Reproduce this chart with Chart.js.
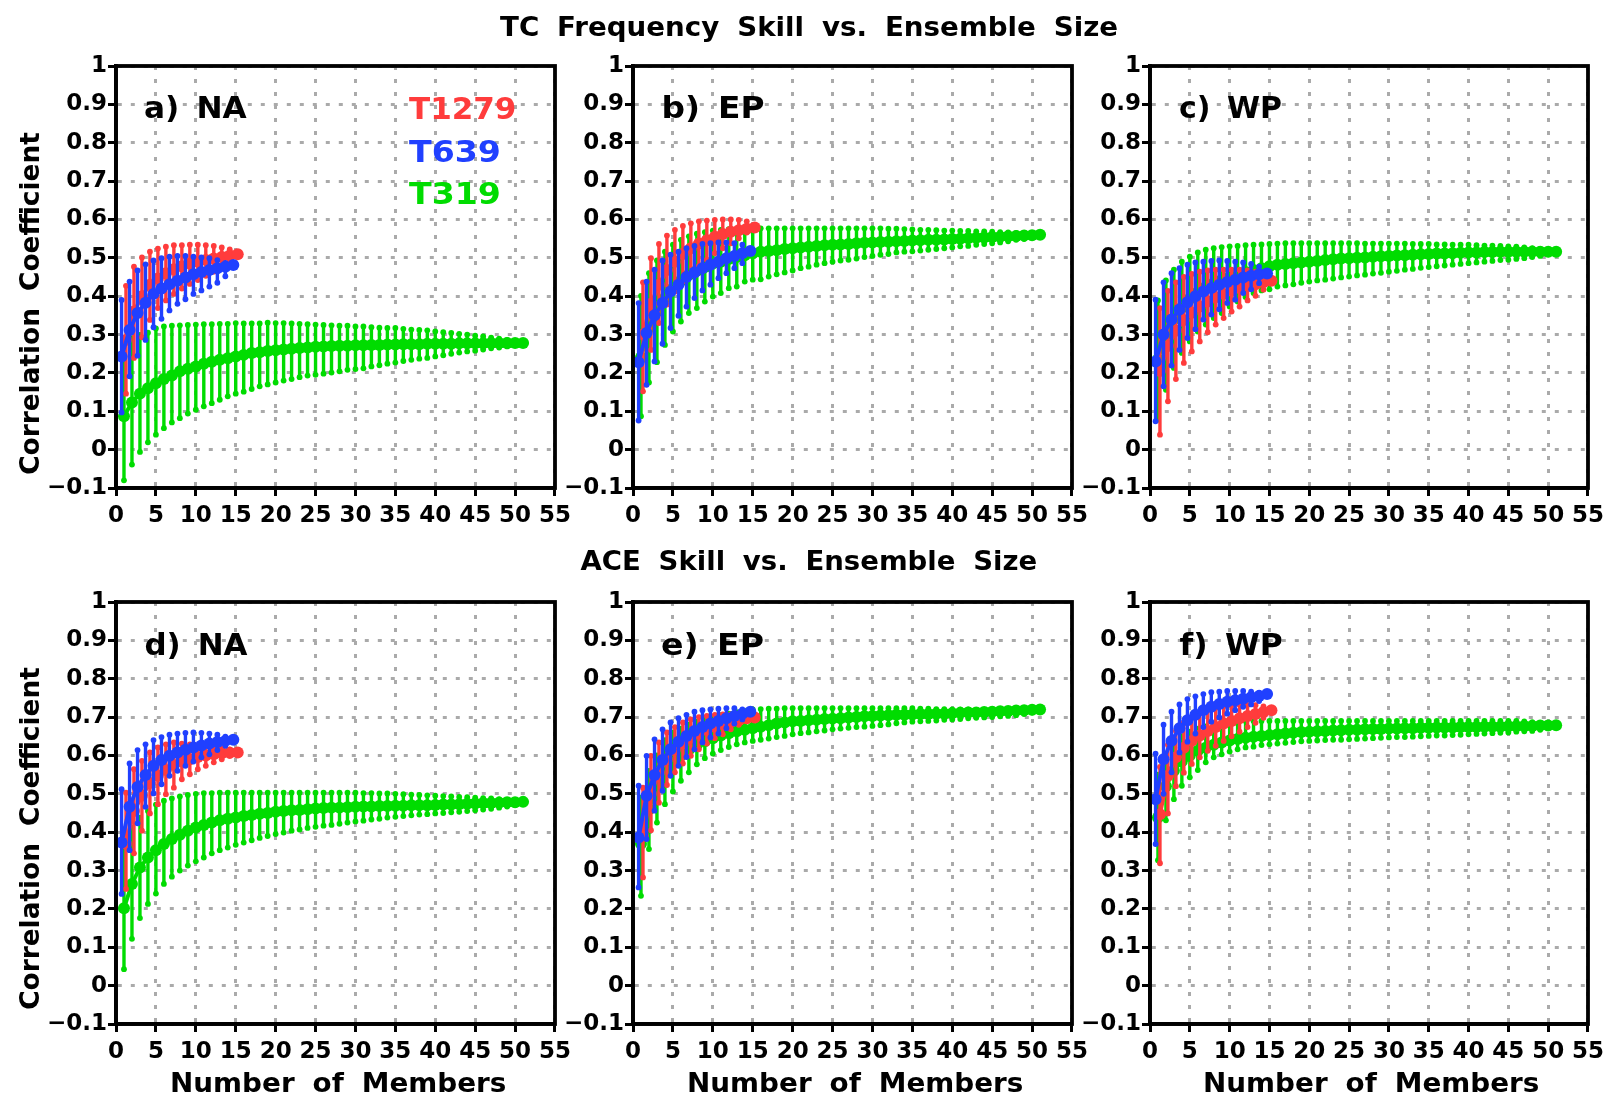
<!DOCTYPE html>
<html><head><meta charset="utf-8">
<script src="https://cdn.jsdelivr.net/npm/chart.js@4.4.0/dist/chart.umd.min.js"></script>
<style>
html,body{margin:0;padding:0;background:#fff;}
body{width:1612px;height:1095px;position:relative;overflow:hidden;font-family:'DejaVu Sans';}
canvas{position:absolute;}
.t{position:absolute;white-space:pre;font-weight:bold;line-height:1;transform-origin:center center;font-family:'DejaVu Sans';}
</style></head><body>
<script>
// ---------------- categories / ticks ----------------
const members15 = [1,2,3,4,5,6,7,8,9,10,11,12,13,14,15];
const members51 = [1,2,3,4,5,6,7,8,9,10,11,12,13,14,15,16,17,18,19,20,21,22,23,24,25,26,27,28,29,30,31,32,33,34,35,36,37,38,39,40,41,42,43,44,45,46,47,48,49,50,51];
const xTickValues = [0,5,10,15,20,25,30,35,40,45,50,55];
const xTickLabels = ['0','5','10','15','20','25','30','35','40','45','50','55'];
const yTickValues = [-0.1,0,0.1,0.2,0.3,0.4,0.5,0.6,0.7,0.8,0.9,1];
const yTickLabels = ['\u22120.1','0','0.1','0.2','0.3','0.4','0.5','0.6','0.7','0.8','0.9','1'];
const seriesNames = ['T1279','T639','T319'];

// ---------------- a) TC frequency, NA ----------------
const freqNA_T1279_mean = [0.286,0.36,0.40,0.43,0.446,0.46,0.47,0.478,0.485,0.49,0.494,0.498,0.502,0.506,0.509];
const freqNA_T1279_lo   = [0.146,0.239,0.293,0.338,0.369,0.389,0.406,0.42,0.432,0.442,0.453,0.464,0.477,0.49,0.509];
const freqNA_T1279_hi   = [0.427,0.477,0.501,0.516,0.524,0.529,0.533,0.533,0.534,0.534,0.533,0.531,0.527,0.522,0.509];
const freqNA_T639_mean  = [0.243,0.312,0.356,0.383,0.406,0.420,0.431,0.440,0.449,0.457,0.463,0.468,0.473,0.477,0.481];
const freqNA_T639_lo    = [0.097,0.191,0.245,0.286,0.319,0.341,0.363,0.380,0.392,0.406,0.415,0.425,0.435,0.452,0.481];
const freqNA_T639_hi    = [0.390,0.438,0.467,0.483,0.493,0.499,0.503,0.505,0.505,0.503,0.501,0.499,0.494,0.487,0.481];
const freqNA_T319_mean  = [0.087,0.123,0.146,0.160,0.173,0.184,0.193,0.204,0.211,0.217,0.224,0.229,0.234,0.238,0.243,0.247,0.252,0.254,0.257,0.259,0.261,0.263,0.265,0.266,0.268,0.269,0.270,0.271,0.271,0.272,0.272,0.273,0.273,0.274,0.274,0.275,0.275,0.275,0.276,0.276,0.276,0.276,0.277,0.277,0.277,0.277,0.278,0.278,0.278,0.278,0.278];
const freqNA_T319_lo    = [-0.080,-0.039,-0.006,0.019,0.039,0.056,0.071,0.082,0.094,0.104,0.113,0.121,0.130,0.139,0.146,0.151,0.158,0.165,0.170,0.175,0.180,0.184,0.189,0.193,0.195,0.198,0.201,0.204,0.208,0.210,0.212,0.217,0.220,0.224,0.227,0.231,0.234,0.237,0.239,0.243,0.246,0.250,0.253,0.256,0.258,0.261,0.264,0.266,0.269,0.272,0.278];
const freqNA_T319_hi    = [0.260,0.290,0.299,0.305,0.316,0.321,0.323,0.324,0.325,0.326,0.327,0.327,0.328,0.328,0.330,0.329,0.329,0.329,0.331,0.330,0.330,0.329,0.328,0.327,0.326,0.325,0.324,0.323,0.323,0.321,0.321,0.319,0.318,0.317,0.317,0.315,0.313,0.312,0.311,0.308,0.306,0.304,0.302,0.300,0.297,0.295,0.292,0.289,0.286,0.282,0.278];

// ---------------- b) TC frequency, EP ----------------
const freqEP_T1279_mean = [0.30,0.38,0.43,0.468,0.49,0.51,0.525,0.537,0.546,0.555,0.562,0.568,0.572,0.576,0.579];
const freqEP_T1279_lo   = [0.152,0.26,0.33,0.378,0.412,0.438,0.46,0.479,0.495,0.512,0.525,0.538,0.551,0.566,0.579];
const freqEP_T1279_hi   = [0.436,0.499,0.536,0.558,0.573,0.583,0.59,0.595,0.597,0.599,0.6,0.6,0.599,0.595,0.579];
const freqEP_T639_mean  = [0.228,0.304,0.35,0.382,0.412,0.43,0.45,0.462,0.473,0.482,0.49,0.499,0.505,0.512,0.518];
const freqEP_T639_lo    = [0.076,0.169,0.23,0.276,0.317,0.349,0.373,0.395,0.415,0.43,0.447,0.46,0.473,0.486,0.518];
const freqEP_T639_hi    = [0.382,0.438,0.469,0.493,0.508,0.516,0.525,0.531,0.536,0.538,0.54,0.54,0.538,0.534,0.518];
const freqEP_T319_mean  = [0.24,0.318,0.36,0.395,0.42,0.44,0.456,0.466,0.476,0.485,0.49,0.497,0.502,0.507,0.512,0.516,0.518,0.52,0.523,0.525,0.527,0.529,0.531,0.533,0.534,0.535,0.536,0.538,0.539,0.54,0.541,0.542,0.543,0.544,0.545,0.546,0.547,0.547,0.548,0.549,0.55,0.551,0.552,0.553,0.554,0.555,0.556,0.557,0.558,0.559,0.56];
const freqEP_T319_lo    = [0.087,0.175,0.228,0.273,0.308,0.334,0.356,0.369,0.386,0.399,0.408,0.421,0.425,0.438,0.443,0.444,0.451,0.457,0.462,0.467,0.473,0.477,0.482,0.486,0.490,0.493,0.495,0.498,0.502,0.505,0.508,0.510,0.514,0.516,0.517,0.519,0.521,0.523,0.525,0.527,0.530,0.531,0.534,0.536,0.538,0.540,0.543,0.547,0.549,0.554,0.56];
const freqEP_T319_hi    = [0.401,0.46,0.493,0.516,0.534,0.547,0.556,0.563,0.567,0.571,0.573,0.575,0.575,0.576,0.576,0.577,0.577,0.577,0.577,0.577,0.577,0.577,0.577,0.577,0.577,0.577,0.577,0.577,0.577,0.577,0.577,0.576,0.576,0.575,0.574,0.573,0.573,0.572,0.571,0.571,0.570,0.570,0.569,0.569,0.568,0.567,0.566,0.565,0.564,0.562,0.56];

// ---------------- c) TC frequency, WP ----------------
const freqWP_T1279_mean = [0.205,0.27,0.31,0.338,0.357,0.373,0.386,0.397,0.406,0.414,0.421,0.427,0.431,0.436,0.44];
const freqWP_T1279_lo   = [0.039,0.126,0.184,0.226,0.256,0.282,0.306,0.326,0.343,0.36,0.373,0.389,0.401,0.417,0.44];
const freqWP_T1279_hi   = [0.369,0.414,0.436,0.45,0.458,0.464,0.467,0.469,0.469,0.469,0.469,0.467,0.464,0.46,0.44];
const freqWP_T639_mean  = [0.23,0.3,0.339,0.365,0.384,0.4,0.412,0.421,0.43,0.437,0.443,0.449,0.453,0.457,0.459];
const freqWP_T639_lo    = [0.074,0.165,0.219,0.26,0.291,0.314,0.339,0.352,0.366,0.382,0.391,0.408,0.418,0.434,0.459];
const freqWP_T639_hi    = [0.391,0.436,0.46,0.473,0.482,0.488,0.49,0.492,0.493,0.492,0.49,0.488,0.484,0.477,0.459];
const freqWP_T319_mean  = [0.235,0.30,0.34,0.37,0.393,0.41,0.424,0.434,0.442,0.45,0.457,0.463,0.468,0.473,0.478,0.482,0.484,0.486,0.488,0.49,0.492,0.494,0.496,0.498,0.499,0.5,0.501,0.503,0.504,0.505,0.506,0.507,0.508,0.509,0.51,0.511,0.511,0.512,0.513,0.514,0.514,0.515,0.515,0.516,0.516,0.516,0.516,0.516,0.516,0.516,0.516];
const freqWP_T319_lo    = [0.078,0.156,0.213,0.252,0.282,0.308,0.326,0.343,0.356,0.373,0.386,0.398,0.408,0.415,0.418,0.425,0.428,0.431,0.435,0.438,0.441,0.443,0.446,0.449,0.451,0.454,0.456,0.459,0.461,0.464,0.466,0.469,0.471,0.474,0.476,0.478,0.480,0.482,0.484,0.486,0.488,0.490,0.492,0.494,0.495,0.497,0.499,0.502,0.505,0.509,0.516];
const freqWP_T319_hi    = [0.389,0.441,0.469,0.49,0.503,0.514,0.521,0.525,0.528,0.53,0.531,0.533,0.534,0.535,0.536,0.537,0.538,0.538,0.538,0.538,0.538,0.538,0.538,0.538,0.538,0.538,0.537,0.537,0.537,0.537,0.537,0.537,0.536,0.536,0.536,0.535,0.535,0.534,0.534,0.534,0.533,0.532,0.532,0.531,0.530,0.529,0.527,0.525,0.523,0.520,0.516];

// ---------------- d) ACE, NA ----------------
const aceNA_T1279_mean = [0.37,0.455,0.495,0.528,0.547,0.562,0.575,0.584,0.59,0.596,0.6,0.603,0.606,0.607,0.608];
const aceNA_T1279_lo   = [0.252,0.345,0.404,0.449,0.473,0.499,0.516,0.538,0.551,0.564,0.573,0.582,0.59,0.599,0.608];
const aceNA_T1279_hi   = [0.503,0.564,0.586,0.608,0.621,0.629,0.634,0.631,0.629,0.627,0.625,0.621,0.619,0.616,0.608];
const aceNA_T639_mean  = [0.373,0.466,0.518,0.549,0.573,0.588,0.599,0.608,0.615,0.621,0.626,0.631,0.635,0.638,0.641];
const aceNA_T639_lo    = [0.239,0.353,0.423,0.466,0.501,0.525,0.547,0.56,0.573,0.584,0.595,0.603,0.614,0.625,0.641];
const aceNA_T639_hi    = [0.512,0.579,0.614,0.629,0.64,0.648,0.654,0.657,0.659,0.66,0.659,0.657,0.654,0.649,0.641];
const aceNA_T319_mean  = [0.202,0.265,0.308,0.334,0.353,0.369,0.382,0.393,0.404,0.412,0.419,0.425,0.431,0.435,0.438,0.442,0.445,0.448,0.45,0.453,0.455,0.457,0.458,0.46,0.462,0.463,0.464,0.464,0.465,0.466,0.467,0.467,0.468,0.468,0.469,0.469,0.47,0.47,0.47,0.471,0.472,0.472,0.473,0.474,0.475,0.476,0.476,0.477,0.478,0.478,0.479];
const aceNA_T319_lo    = [0.043,0.122,0.176,0.213,0.24,0.265,0.284,0.3,0.313,0.324,0.334,0.345,0.353,0.36,0.367,0.373,0.379,0.385,0.39,0.395,0.399,0.404,0.407,0.411,0.414,0.417,0.419,0.422,0.425,0.428,0.430,0.433,0.435,0.438,0.44,0.442,0.444,0.446,0.447,0.449,0.45,0.452,0.453,0.455,0.457,0.459,0.461,0.464,0.467,0.471,0.479];
const aceNA_T319_hi    = [0.36,0.412,0.438,0.455,0.472,0.482,0.488,0.493,0.497,0.5,0.502,0.502,0.503,0.503,0.503,0.503,0.503,0.503,0.503,0.503,0.503,0.503,0.503,0.503,0.503,0.503,0.503,0.503,0.503,0.503,0.502,0.502,0.501,0.501,0.5,0.499,0.498,0.497,0.496,0.495,0.494,0.493,0.492,0.491,0.49,0.489,0.488,0.486,0.484,0.482,0.479];

// ---------------- e) ACE, EP ----------------
const aceEP_T1279_mean = [0.39,0.5,0.555,0.59,0.615,0.632,0.646,0.658,0.667,0.675,0.681,0.687,0.692,0.697,0.699];
const aceEP_T1279_lo   = [0.282,0.405,0.477,0.523,0.556,0.579,0.599,0.616,0.631,0.645,0.655,0.668,0.68,0.69,0.699];
const aceEP_T1279_hi   = [0.516,0.599,0.634,0.66,0.674,0.686,0.694,0.7,0.703,0.706,0.707,0.707,0.707,0.706,0.699];
const aceEP_T639_mean  = [0.386,0.495,0.549,0.588,0.616,0.636,0.651,0.664,0.674,0.683,0.69,0.697,0.703,0.709,0.714];
const aceEP_T639_lo    = [0.256,0.382,0.456,0.508,0.547,0.573,0.596,0.616,0.634,0.647,0.657,0.671,0.683,0.694,0.714];
const aceEP_T639_hi    = [0.521,0.599,0.642,0.668,0.686,0.697,0.706,0.714,0.718,0.72,0.722,0.723,0.723,0.72,0.714];
const aceEP_T319_mean  = [0.37,0.46,0.52,0.555,0.58,0.6,0.615,0.627,0.637,0.645,0.652,0.658,0.663,0.667,0.671,0.675,0.679,0.683,0.686,0.689,0.69,0.692,0.693,0.695,0.696,0.697,0.699,0.7,0.702,0.703,0.704,0.705,0.706,0.706,0.707,0.708,0.708,0.709,0.709,0.71,0.711,0.712,0.712,0.713,0.714,0.715,0.716,0.717,0.718,0.719,0.72];
const aceEP_T319_lo    = [0.234,0.356,0.425,0.473,0.506,0.534,0.556,0.577,0.593,0.605,0.614,0.622,0.629,0.634,0.638,0.641,0.644,0.648,0.651,0.655,0.658,0.66,0.663,0.665,0.668,0.67,0.672,0.674,0.675,0.677,0.679,0.681,0.684,0.686,0.688,0.689,0.69,0.691,0.693,0.694,0.695,0.697,0.698,0.699,0.7,0.702,0.703,0.705,0.708,0.712,0.72];
const aceEP_T319_hi    = [0.49,0.56,0.6,0.64,0.66,0.67,0.68,0.688,0.695,0.70,0.705,0.709,0.713,0.716,0.72,0.721,0.722,0.722,0.723,0.723,0.723,0.723,0.723,0.723,0.723,0.723,0.723,0.723,0.723,0.723,0.723,0.723,0.723,0.723,0.723,0.722,0.722,0.721,0.721,0.72,0.72,0.72,0.719,0.719,0.718,0.718,0.717,0.717,0.721,0.72,0.72];

// ---------------- f) ACE, WP ----------------
const aceWP_T1279_mean = [0.447,0.547,0.595,0.62,0.638,0.652,0.664,0.674,0.683,0.69,0.697,0.703,0.708,0.713,0.718];
const aceWP_T1279_lo   = [0.319,0.449,0.52,0.555,0.578,0.595,0.612,0.625,0.638,0.65,0.662,0.674,0.685,0.698,0.718];
const aceWP_T1279_hi   = [0.57,0.628,0.664,0.686,0.7,0.71,0.718,0.724,0.728,0.73,0.732,0.732,0.731,0.728,0.718];
const aceWP_T639_mean  = [0.486,0.59,0.638,0.671,0.692,0.706,0.718,0.727,0.734,0.74,0.744,0.748,0.752,0.755,0.76];
const aceWP_T639_lo    = [0.369,0.5,0.556,0.608,0.636,0.657,0.674,0.688,0.699,0.709,0.718,0.727,0.733,0.742,0.76];
const aceWP_T639_hi    = [0.605,0.68,0.714,0.733,0.747,0.754,0.76,0.765,0.766,0.768,0.768,0.768,0.766,0.764,0.76];
const aceWP_T319_mean  = [0.438,0.52,0.56,0.585,0.6,0.612,0.62,0.628,0.634,0.639,0.643,0.646,0.649,0.651,0.653,0.655,0.657,0.659,0.661,0.662,0.663,0.664,0.665,0.666,0.667,0.667,0.668,0.669,0.669,0.67,0.67,0.671,0.671,0.672,0.672,0.673,0.673,0.673,0.674,0.674,0.674,0.675,0.675,0.675,0.676,0.676,0.677,0.677,0.678,0.678,0.679];
const aceWP_T319_lo    = [0.327,0.431,0.486,0.521,0.543,0.562,0.582,0.595,0.603,0.61,0.616,0.621,0.623,0.627,0.629,0.631,0.633,0.635,0.637,0.638,0.639,0.64,0.641,0.641,0.642,0.643,0.644,0.645,0.646,0.647,0.648,0.648,0.649,0.65,0.651,0.652,0.652,0.653,0.654,0.655,0.656,0.657,0.658,0.659,0.66,0.662,0.663,0.664,0.667,0.671,0.679];
const aceWP_T319_hi    = [0.55,0.6,0.63,0.65,0.662,0.67,0.676,0.68,0.685,0.688,0.69,0.69,0.69,0.69,0.69,0.69,0.69,0.69,0.69,0.69,0.69,0.69,0.69,0.69,0.69,0.69,0.69,0.69,0.69,0.69,0.69,0.69,0.69,0.69,0.69,0.69,0.69,0.69,0.69,0.69,0.69,0.69,0.69,0.69,0.69,0.69,0.689,0.687,0.685,0.683,0.679];

// ---------------- style ----------------
const COLORS = {T1279:'#ff3c3c', T639:'#2040ff', T319:'#00dc00'};
const XOFF = {T1279:0.25, T639:-0.3, T319:0};
const TICK_FONT = {family:'DejaVu Sans', weight:'bold', size:23};

const panels = [
  {L:116, T:66,  R:559,  B:488,  label:'a) NA',
   d:{T1279:[freqNA_T1279_mean,freqNA_T1279_lo,freqNA_T1279_hi], T639:[freqNA_T639_mean,freqNA_T639_lo,freqNA_T639_hi], T319:[freqNA_T319_mean,freqNA_T319_lo,freqNA_T319_hi]}},
  {L:633, T:66,  R:1076, B:488,  label:'b) EP',
   d:{T1279:[freqEP_T1279_mean,freqEP_T1279_lo,freqEP_T1279_hi], T639:[freqEP_T639_mean,freqEP_T639_lo,freqEP_T639_hi], T319:[freqEP_T319_mean,freqEP_T319_lo,freqEP_T319_hi]}},
  {L:1150,T:66,  R:1592, B:488,  label:'c) WP',
   d:{T1279:[freqWP_T1279_mean,freqWP_T1279_lo,freqWP_T1279_hi], T639:[freqWP_T639_mean,freqWP_T639_lo,freqWP_T639_hi], T319:[freqWP_T319_mean,freqWP_T319_lo,freqWP_T319_hi]}},
  {L:116, T:602, R:559,  B:1024, label:'d) NA',
   d:{T1279:[aceNA_T1279_mean,aceNA_T1279_lo,aceNA_T1279_hi], T639:[aceNA_T639_mean,aceNA_T639_lo,aceNA_T639_hi], T319:[aceNA_T319_mean,aceNA_T319_lo,aceNA_T319_hi]}},
  {L:633, T:602, R:1076, B:1024, label:'e) EP',
   d:{T1279:[aceEP_T1279_mean,aceEP_T1279_lo,aceEP_T1279_hi], T639:[aceEP_T639_mean,aceEP_T639_lo,aceEP_T639_hi], T319:[aceEP_T319_mean,aceEP_T319_lo,aceEP_T319_hi]}},
  {L:1150,T:602, R:1592, B:1024, label:'f) WP',
   d:{T1279:[aceWP_T1279_mean,aceWP_T1279_lo,aceWP_T1279_hi], T639:[aceWP_T639_mean,aceWP_T639_lo,aceWP_T639_hi], T319:[aceWP_T319_mean,aceWP_T319_lo,aceWP_T319_hi]}}
];

const errorBarPlugin = {
  id:'errbars',
  beforeDatasetDraw(chart, args){
    const ds = chart.data.datasets[args.index];
    if(!ds.lo) return;
    const xs = chart.scales.x, ys = chart.scales.y, ctx = chart.ctx;
    ctx.save();
    ctx.strokeStyle = ds.borderColor; ctx.fillStyle = ds.borderColor;
    ctx.lineWidth = 3.4;
    ds.data.forEach((p,i)=>{
      const px = xs.getPixelForValue(p.x);
      const y1 = ys.getPixelForValue(ds.lo[i]), y2 = ys.getPixelForValue(ds.hi[i]);
      if(Math.abs(y1-y2) < 1.5) return;
      ctx.beginPath(); ctx.moveTo(px,y1); ctx.lineTo(px,y2); ctx.stroke();
      [y1,y2].forEach(yy=>{ ctx.beginPath(); ctx.arc(px,yy,2.9,0,Math.PI*2); ctx.fill(); });
    });
    ctx.restore();
  }
};
const framePlugin = {
  id:'frame',
  afterDraw(chart){
    const a = chart.chartArea, ctx = chart.ctx;
    ctx.save(); ctx.strokeStyle='#000'; ctx.lineWidth=3.8;
    ctx.strokeRect(a.left, a.top, a.right-a.left, a.bottom-a.top);
    ctx.restore();
  }
};

const PADL = 100, PADT = 25, PADR = 18, PADB = 50;
panels.forEach(p=>{
  const cv = document.createElement('canvas');
  const W = (p.R-p.L)+PADL+PADR, H = (p.B-p.T)+PADT+PADB;
  cv.width = W; cv.height = H;
  cv.style.left = (p.L-PADL)+'px'; cv.style.top = (p.T-PADT)+'px';
  cv.style.width = W+'px'; cv.style.height = H+'px';
  document.body.appendChild(cv);
  const order = ['T639','T1279','T319'];
  const datasets = order.map(name=>{
    const [mean, lo, hi] = p.d[name];
    const xs = mean.length === 15 ? members15 : members51;
    return {
      label:name,
      data: mean.map((v,i)=>({x: xs[i]+XOFF[name], y: v})),
      lo, hi,
      borderColor: COLORS[name], backgroundColor: COLORS[name],
      pointBackgroundColor: COLORS[name], pointBorderWidth:0,
      pointRadius:6, borderWidth:4, tension:0, showLine:true, fill:false
    };
  });
  new Chart(cv, {
    type:'line',
    data:{datasets},
    options:{
      responsive:false, animation:false, devicePixelRatio:1, events:[],
      layout:{padding:{left:0, top:PADT, right:PADR, bottom:0}},
      plugins:{legend:{display:false}, tooltip:{enabled:false}},
      scales:{
        x:{type:'linear', min:0, max:55,
           afterFit(s){ s.height = PADB; },
           afterBuildTicks(s){ s.ticks = xTickValues.map(v=>({value:v})); },
           ticks:{autoSkip:false, maxRotation:0, color:'#000', font:TICK_FONT, padding:6,
                  callback:(v)=>xTickLabels[xTickValues.indexOf(v)]},
           grid:{color:'#aaaaaa', lineWidth:3, drawTicks:true, tickLength:8, tickColor:'#000', tickWidth:3},
           border:{display:true, color:'#000', width:3.8, dash:[4,9]}},
        y:{type:'linear', min:-0.1, max:1,
           afterFit(s){ s.width = PADL; },
           afterBuildTicks(s){ s.ticks = yTickValues.map(v=>({value:v})); },
           ticks:{autoSkip:false, color:'#000', font:TICK_FONT, padding:1,
                  callback:(v)=>{ const i = yTickValues.findIndex(t=>Math.abs(t-v)<1e-6); return yTickLabels[i]; }},
           grid:{color:'#aaaaaa', lineWidth:3, drawTicks:true, tickLength:8, tickColor:'#000', tickWidth:3},
           border:{display:true, color:'#000', width:3.8, dash:[4,9]}}
      }
    },
    plugins:[errorBarPlugin, framePlugin]
  });
});

// ---------------- text ----------------
function addText(txt, o){
  const d = document.createElement('div');
  d.className = 't'; d.textContent = txt;
  d.style.fontSize = o.size+'px'; d.style.color = o.color || '#000';
  if(o.ws) d.style.wordSpacing = o.ws+'px';
  document.body.appendChild(d);
  const w = d.offsetWidth, h = d.offsetHeight;
  const sx = o.w ? o.w / w : 1;
  const cx = o.cx !== undefined ? o.cx : o.left + o.w/2;
  d.style.left = (cx - w/2)+'px'; d.style.top = (o.cy - h/2)+'px';
  d.style.transform = (o.rot ? 'rotate(-90deg) ' : '') + 'scaleX('+sx+')';
}
const titleTop = 'TC Frequency Skill vs. Ensemble Size';
const titleBottom = 'ACE Skill vs. Ensemble Size';
const yTitle = 'Correlation Coefficient';
const xTitle = 'Number of Members';
addText(titleTop, {cx:809, cy:26, w:618, size:27, ws:8});
addText(titleBottom, {cx:809, cy:560, w:457, size:27, ws:8});
addText(yTitle, {cx:29, cy:303, w:343, size:27, ws:8, rot:true});
addText(yTitle, {cx:29, cy:838, w:343, size:27, ws:8, rot:true});
[338, 855, 1371].forEach(cx=>addText(xTitle, {cx, cy:1082, w:336, size:27, ws:8}));
const labelPos = [[144,108],[661,108],[1179,108],[144,645],[661,645],[1179,645]];
panels.forEach((p,i)=>addText(p.label, {left:labelPos[i][0], cy:labelPos[i][1], w:103, size:30, ws:6}));
addText(seriesNames[0], {left:409, cy:108, w:107, size:31, color:COLORS.T1279});
addText(seriesNames[1], {left:409, cy:151, w:92, size:31, color:COLORS.T639});
addText(seriesNames[2], {left:409, cy:193, w:92, size:31, color:COLORS.T319});
</script>
</body></html>
